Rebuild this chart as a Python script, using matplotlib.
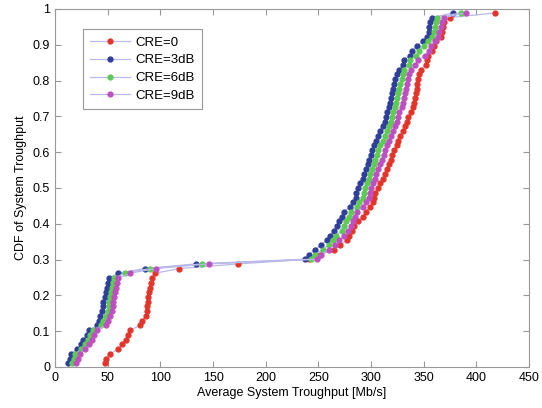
import matplotlib
import matplotlib.pyplot as plt

matplotlib.rc('font', family='Liberation Sans', size=9)

# CDF levels (shared by all series)
cdf = [0.010, 0.023, 0.036, 0.050, 0.063, 0.076, 0.089, 0.103, 0.116, 0.129,
       0.142, 0.156, 0.169, 0.182, 0.195, 0.209, 0.222, 0.235, 0.248, 0.262,
       0.275, 0.288, 0.301, 0.314, 0.328, 0.341, 0.354, 0.367, 0.380, 0.394,
       0.407, 0.420, 0.433, 0.447, 0.460, 0.473, 0.486, 0.500, 0.513, 0.526,
       0.539, 0.553, 0.566, 0.579, 0.592, 0.605, 0.619, 0.632, 0.645, 0.658,
       0.672, 0.685, 0.698, 0.711, 0.725, 0.738, 0.751, 0.764, 0.777, 0.791,
       0.804, 0.817, 0.830, 0.844, 0.857, 0.870, 0.883, 0.896, 0.910, 0.923,
       0.936, 0.949, 0.963, 0.976, 0.989]

tp_cre0 = [47, 48, 52, 60, 64, 67, 69, 71, 81, 83, 86, 87, 87, 88, 88, 89, 90, 91, 92, 95,
           118, 174,
           241, 252, 265, 271, 277, 279, 282, 284, 288, 292, 295, 299, 302, 303, 304, 307,
           309, 311, 313, 315, 317, 319, 320, 322, 325, 326, 328, 330, 332, 334, 335, 338,
           340, 341, 342, 343, 344, 344, 345, 346, 347, 352, 353, 354, 358, 360, 362, 366,
           367, 368, 369, 375, 418]

tp_cre3 = [12.5, 14, 15, 21, 25, 27, 30, 32, 40, 42, 43, 45, 46, 46, 47, 48, 49, 50, 51, 60,
           85, 134,
           237, 241, 247, 253, 258, 261, 265, 268, 270, 272, 274, 280, 283, 286, 286, 288,
           290, 292, 293, 295, 297, 298, 300, 301, 303, 305, 307, 309, 311, 313, 314, 315,
           317, 318, 319, 320, 321, 322, 323, 325, 327, 330, 331, 337, 339, 344, 349, 353,
           355, 355, 356, 358, 378]

tp_cre6 = [16, 18, 19, 25, 28, 31, 33, 36, 44, 46, 48, 50, 51, 51, 52, 53, 54, 55, 56, 66,
           90, 140,
           243, 247, 254, 260, 264, 267, 272, 274, 276, 279, 281, 287, 289, 292, 293, 294,
           296, 298, 299, 301, 303, 304, 306, 307, 309, 311, 313, 315, 317, 319, 320, 321,
           323, 324, 325, 326, 327, 328, 329, 330, 331, 336, 337, 343, 346, 350, 354, 358,
           360, 361, 362, 363, 385]

tp_cre9 = [20, 22, 24, 28, 32, 35, 37, 40, 48, 50, 52, 54, 55, 55, 56, 57, 58, 59, 60, 71,
           96, 146,
           249, 253, 260, 266, 270, 274, 278, 281, 283, 285, 287, 292, 295, 298, 299, 300,
           302, 304, 305, 307, 309, 310, 312, 313, 315, 317, 319, 321, 323, 325, 326, 327,
           329, 330, 331, 332, 333, 334, 335, 336, 338, 342, 345, 351, 355, 357, 361, 364,
           365, 366, 367, 369, 390]

labels = ["CRE=0", "CRE=3dB", "CRE=6dB", "CRE=9dB"]
series = [tp_cre0, tp_cre3, tp_cre6, tp_cre9]
colors = ["#e3342a", "#2f3d9c", "#5ccb52", "#bf4fc0"]

fig = plt.figure(figsize=(5.42, 4.08), dpi=100)
ax = fig.add_axes([0.1015, 0.1005, 0.8745, 0.8775])

for x, lab, c in zip(series, labels, colors):
    ax.plot(x, cdf, '-', color='#b9b9ea', lw=0.9, marker='o', markersize=3.5,
            markerfacecolor=c, markeredgecolor=c, label=lab)

ax.set_xlim(0, 450)
ax.set_ylim(0, 1)
ax.set_xticks(range(0, 451, 50))
ax.set_yticks([i / 10 for i in range(11)])
ax.set_yticklabels(["0", "0.1", "0.2", "0.3", "0.4", "0.5", "0.6", "0.7", "0.8", "0.9", "1"])
ax.tick_params(direction='in', top=True, right=True, length=4, color='#999999', labelsize=9)
for s in ax.spines.values():
    s.set_color('#999999')
    s.set_linewidth(0.8)

ax.set_xlabel("Average System Troughput [Mb/s]", fontsize=9, labelpad=2)
ax.set_ylabel("CDF of System Troughput", fontsize=9, labelpad=4)

leg = ax.legend(loc='upper left', bbox_to_anchor=(0.045, 0.962), fontsize=9.5,
                handlelength=3.0, fancybox=False, framealpha=1, borderpad=0.55,
                labelspacing=0.42, handletextpad=0.4)
leg.get_frame().set_edgecolor('#999999')
leg.get_frame().set_linewidth(0.8)

plt.savefig("out.png", dpi=100)
